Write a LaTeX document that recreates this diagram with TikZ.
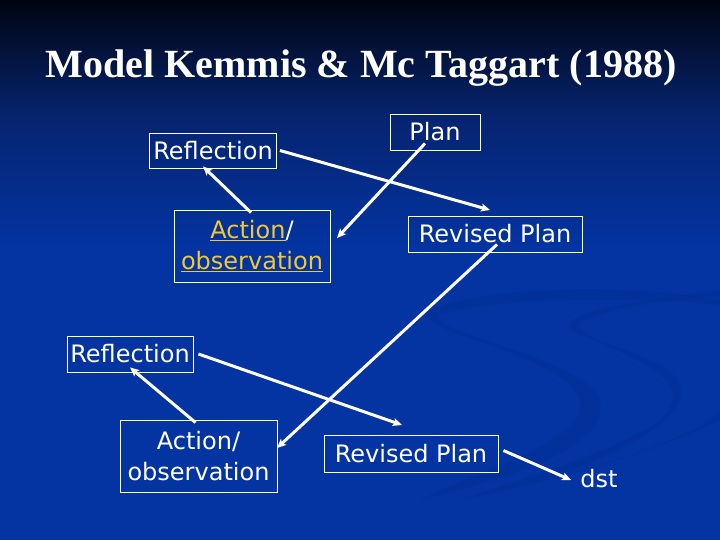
\documentclass[tikz,border=0pt]{standalone}
\usepackage{fontspec}
\setmainfont{DejaVu Sans}
\newfontfamily\titlefont{Liberation Serif}
\usetikzlibrary{arrows.meta}
\definecolor{bgtop}{HTML}{000512}
\definecolor{bgmid}{HTML}{062470}
\definecolor{bgbot}{HTML}{0334A2}
\definecolor{swoosh}{HTML}{022C8C}
\definecolor{ylw}{HTML}{F2C832}
\pgfdeclareverticalshading{slidebg}{100bp}{color(0bp)=(bgbot); color(25bp)=(bgbot); color(52bp)=(bgbot); color(64bp)=(bgmid); color(75bp)=(bgtop); color(100bp)=(bgtop)}
\tikzset{
  box/.style={draw=white, line width=0.9pt, text=white, inner sep=0pt, align=center, font=\fontsize{24}{31}\selectfont},
  conn/.style={white, line width=3pt, -{Stealth[length=9pt,width=8pt,inset=2pt]}},
}
\begin{document}
\begin{tikzpicture}[x=1pt,y=-1pt]
\useasboundingbox (0,0) rectangle (720,540);
\shade[shading=slidebg] (0,0) rectangle (720,540);
% faint swooshes
\begin{scope}[opacity=0.3]
\fill[swoosh] (720,300) .. controls (600,280) and (480,290) .. (430,310) .. controls (400,330) and (560,350) .. (580,400) .. controls (590,440) and (480,470) .. (420,500) .. controls (500,480) and (610,450) .. (600,400) .. controls (590,360) and (420,330) .. (440,315) .. controls (480,300) and (600,295) .. (720,305) -- cycle;
\fill[swoosh] (720,290) .. controls (650,300) and (560,310) .. (570,330) .. controls (640,360) and (700,380) .. (660,420) .. controls (620,450) and (520,480) .. (460,500) .. controls (560,480) and (660,450) .. (720,420) -- (720,412) .. controls (690,440) and (600,465) .. (560,475) .. controls (640,445) and (720,400) .. (660,365) .. controls (620,345) and (570,335) .. (580,322) .. controls (600,310) and (660,300) .. (720,296) -- cycle;
\end{scope}
% title
\node (title) [text=white, font=\titlefont\bfseries\fontsize{40}{44}\selectfont] at (361,68) {Model Kemmis \& Mc Taggart (1988)};
% nodes
\node (refl1) [box, minimum width=127pt, minimum height=35pt] at (213,150.5) {Reflection};
\node (plan) [box, minimum width=90pt, minimum height=36pt] at (435,132) {Plan};
\node (act1) [box, minimum width=156pt, minimum height=72pt] at (252,246) {\textcolor{ylw}{\underline{Action}}/\\\textcolor{ylw}{\underline{observation}}};
\node (rev1) [box, minimum width=174pt, minimum height=36pt] at (495,234) {Revised Plan};
\node (refl2) [box, minimum width=126pt, minimum height=36pt] at (130,354) {Reflection};
\node (act2) [box, minimum width=157pt, minimum height=72pt] at (198.5,456) {Action/\\observation};
\node (rev2) [box, minimum width=174pt, minimum height=37pt] at (411,453.5) {Revised Plan};
\node (dst) [text=white, inner sep=0pt, font=\fontsize{24}{28}\selectfont] at (599,479) {dst};
% connectors
\coordinate (e1) at (490,210);
\coordinate (e2) at (337,238);
\coordinate (e4) at (277,448);
\coordinate (e5) at (402,425);
\coordinate (e7) at (571,480);
\draw[conn] ([xshift=3pt]refl1.east) -- (e1);
\draw[conn] ([xshift=-10pt,yshift=7pt]plan.south) -- (e2);
\draw[conn] ([xshift=-1pt,yshift=-3pt]act1.north) -- ([xshift=-10pt,yshift=2pt]refl1.south);
\draw[conn] ([xshift=2pt,yshift=8pt]rev1.south) -- (e4);
\draw[conn] ([xshift=5pt]refl2.east) -- (e5);
\draw[conn] ([xshift=-3pt,yshift=-3pt]act2.north) -- ([xshift=0pt,yshift=5pt]refl2.south);
\draw[conn] ([xshift=5pt,yshift=3pt]rev2.east) -- (e7);
\end{tikzpicture}
\end{document}
